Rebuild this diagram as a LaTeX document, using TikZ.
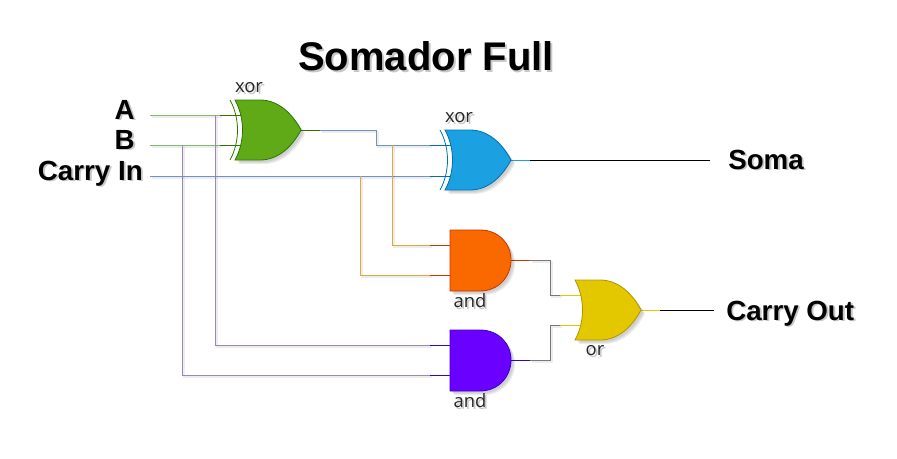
\documentclass[tikz,border=0pt]{standalone}
\usepackage{fontspec}
\setmainfont{Liberation Sans}
\newfontfamily\gatefont{Open Sans}
\usetikzlibrary{calc}
\pgfdeclarelayer{wires}
\pgfsetlayers{wires,main}
\definecolor{gfill}{HTML}{60A917}\definecolor{gline}{HTML}{2D7600}
\definecolor{bfill}{HTML}{1BA1E2}\definecolor{bline}{HTML}{006EAF}
\definecolor{ofill}{HTML}{FA6800}\definecolor{oline}{HTML}{C73500}
\definecolor{yfill}{HTML}{E3C800}\definecolor{yline}{HTML}{B09500}
\definecolor{pfill}{HTML}{6A00FF}\definecolor{pline}{HTML}{3700CC}
\definecolor{wgreen}{HTML}{86B96A}\definecolor{wpurple}{HTML}{9A86B8}
\definecolor{wblue}{HTML}{7390BE}\definecolor{wgold}{HTML}{E0A93A}
\definecolor{wgrey}{HTML}{787878}
\newcommand\shad[1]{\leavevmode\rlap{\kern1.4pt\raisebox{-1.4pt}{\textcolor{black!22}{#1}}}#1}
\newcommand\orbody{(0,0) -- (25,0) .. controls (43,0) and (57,13) .. (66,30)
  .. controls (57,47) and (43,60) .. (25,60) -- (0,60)
  .. controls (10,42) and (10,18) .. (0,0) -- cycle}
\newcommand\andbody{(0,0) -- (30,0) .. controls (48,0) and (61,13) .. (61,30)
  .. controls (61,47) and (48,61) .. (30,61) -- (0,61) -- cycle}
\newcommand\gateshadow[1]{%
  \fill[black,opacity=.06,shift={(2,2)}] #1;
  \fill[black,opacity=.07,shift={(3,3)}] #1;
  \fill[black,opacity=.07,shift={(4,4)}] #1;}
\tikzset{
  x=0.75pt,y=-0.75pt,
  wire/.style={draw=#1,line width=.7pt,line join=miter,
    preaction={draw=black,draw opacity=.07,line width=1.4pt,transform canvas={xshift=1.8pt,yshift=-1.8pt}}},
  stub/.style={draw=#1,line width=.7pt},
  title/.style={font=\bfseries\fontsize{30}{32}\selectfont,inner sep=0pt},
  pinlabel/.style={font=\bfseries\fontsize{20.8}{23}\selectfont,inner sep=0pt},
  gatelabel/.style={font=\gatefont\fontsize{13.8}{15}\selectfont,text=black!85,inner sep=0pt},
  orgate/.pic={
    \gateshadow{\orbody}
    \path[pic actions,line width=.6pt] \orbody;
    \coordinate (-in1) at (8,15); \coordinate (-in2) at (8,45);
    \coordinate (-st1) at (-15,15); \coordinate (-st2) at (-15,45);
    \coordinate (-out) at (66,30); \coordinate (-ost) at (85,30);
  },
  xorgate/.pic={
    \gateshadow{\orbody}
    \path[pic actions,line width=.6pt] \orbody;
    \path[pic actions,fill=none,line width=.6pt] (-5,0) .. controls (5,18) and (5,42) .. (-5,60);
    \coordinate (-in1) at (8,15); \coordinate (-in2) at (8,45);
    \coordinate (-st1) at (-15,15); \coordinate (-st2) at (-15,45);
    \coordinate (-out) at (66,30); \coordinate (-ost) at (85,30);
  },
  andgate/.pic={
    \gateshadow{\andbody}
    \path[pic actions,line width=.6pt] \andbody;
    \coordinate (-in1) at (0,15); \coordinate (-in2) at (0,45);
    \coordinate (-st1) at (-20,15); \coordinate (-st2) at (-20,45);
    \coordinate (-out) at (61,30); \coordinate (-ost) at (80,30);
  },
}
\begin{document}
\begin{tikzpicture}
\useasboundingbox (0,0) rectangle (897,458);
% gates
\pic (x1) at (235,100) [fill=gfill,draw=gline] {xorgate};
\pic (x2) at (445,130) [fill=bfill,draw=bline] {xorgate};
\pic (a1) at (450,230) [fill=ofill,draw=oline] {andgate};
\pic (a2) at (450,330) [fill=pfill,draw=pline] {andgate};
\pic (o1) at (575,280) [fill=yfill,draw=yline] {orgate};
% text
\node[title] (ttl) at (426,57) {\shad{Somador Full}};
\node[pinlabel,anchor=base east] (lA) at (135,119) {\shad{A}};
\node[pinlabel,anchor=base east] (lB) at (135,149) {\shad{B}};
\node[pinlabel,anchor=base east] (lC) at (143,180) {\shad{Carry In}};
\node[pinlabel,anchor=base west] (lS) at (728,169) {\shad{Soma}};
\node[pinlabel,anchor=base west] (lO) at (726,320) {\shad{Carry Out}};
\node[gatelabel] (tx1) at (249,89) {\shad{xor}};
\node[gatelabel] (tx2) at (459,119) {\shad{xor}};
\node[gatelabel] (ta1) at (470,302) {\shad{and}};
\node[gatelabel] (ta2) at (470,402) {\shad{and}};
\node[gatelabel] (to1) at (595,352) {\shad{or}};
% free ends and bends
\coordinate (inA) at (150,115);
\coordinate (inB) at (150,145);
\coordinate (inC) at (150,176);
\coordinate (outS) at (710,160);
\coordinate (outC) at (714,310);
\begin{pgfonlayer}{wires}
\draw[wire=wgreen] (inA) -- (x1-st1);
\draw[wire=wgreen] (inB) -- (x1-st2);
\draw[stub=gline] (x1-st1) -- (x1-in1);
\draw[stub=gline] (x1-st2) -- (x1-in2);
\draw[wire=wpurple] (215,115) |- (a2-st1);
\draw[wire=wpurple] (182,145) |- (a2-st2);
\draw[stub=pline] (a2-st1) -- (a2-in1);
\draw[stub=pline] (a2-st2) -- (a2-in2);
\draw[wire=wblue] (inC) -- ($(x2-st2)+(0,1)$);
\draw[wire=wblue] (x1-ost) -- (376,130) -- (376,145) -- (x2-st1);
\draw[stub=gline] (x1-out) -- (x1-ost);
\draw[stub=bline] (x2-st1) -- (x2-in1);
\draw[stub=bline] ($(x2-st2)+(0,1)$) -- ($(x2-in2)+(0,1)$);
\draw[wire=wgold] (392,145) |- (a1-st1);
\draw[wire=wgold] (360,176) |- (a1-st2);
\draw[stub=oline] (a1-st1) -- (a1-in1);
\draw[stub=oline] (a1-st2) -- (a1-in2);
\draw[stub=bfill] (x2-out) -- (x2-ost);
\draw[black,line width=.7pt] (x2-ost) -- (outS);
\draw[stub=oline] (a1-out) -- (a1-ost);
\draw[stub=pline] (a2-out) -- (a2-ost);
\draw[wire=wgrey] (a1-ost) -- (550,260) -- (550,295) -- (o1-st1);
\draw[wire=wgrey] (a2-ost) -- (550,360) -- (550,325) -- (o1-st2);
\draw[stub=yfill] (o1-st1) -- (o1-in1);
\draw[stub=yfill] (o1-st2) -- (o1-in2);
\draw[stub=yfill] (o1-out) -- (o1-ost);
\draw[black,line width=.7pt] (o1-ost) -- (outC);
\end{pgfonlayer}
\end{tikzpicture}
\end{document}
